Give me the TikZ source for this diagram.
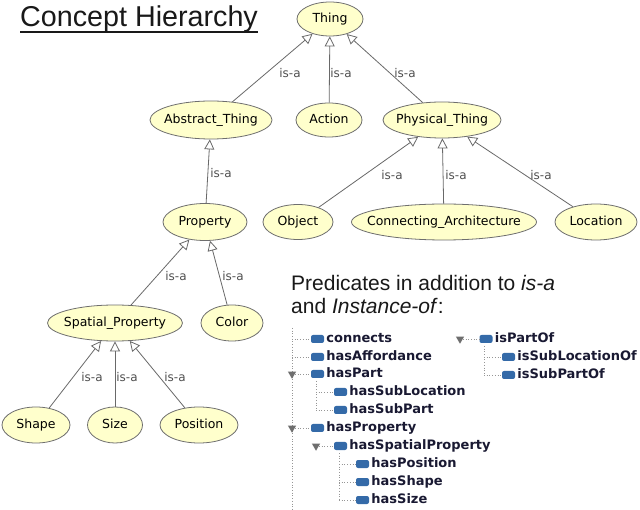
\documentclass[tikz,border=0pt]{standalone}
\usepackage{fontspec}
\setmainfont{Liberation Sans}
\newfontfamily\dv{DejaVu Sans}
\usetikzlibrary{shapes.geometric,arrows.meta,calc}
\definecolor{efill}{RGB}{255,255,204}
\definecolor{edraw}{RGB}{110,110,110}
\definecolor{ecol}{RGB}{105,105,105}
\definecolor{lblc}{RGB}{80,80,80}
\definecolor{iconc}{RGB}{52,106,168}
\definecolor{itemc}{RGB}{25,25,50}
\definecolor{treec}{RGB}{150,150,150}
\definecolor{expc}{RGB}{110,110,110}
\newcommand\zb[1]{\makebox[0pt][c]{#1}}
\begin{document}
\begin{tikzpicture}[x=1pt,y=-1pt,
 concept/.style={ellipse, draw=edraw, fill=efill, line width=0.8pt, inner sep=0pt,
   minimum height=36pt, font=\dv\fontsize{12.5}{14}\selectfont, text height=9pt, text depth=2.5pt},
 isa/.style={draw=ecol, line width=0.8pt, -{Triangle[open,length=10pt,width=10pt]}},
 lbl/.style={font=\dv\fontsize{12}{14}\selectfont, text=lblc, inner sep=0pt},
 icon/.style={fill=iconc, rounded corners=2pt, minimum width=13pt, minimum height=8pt, inner sep=0pt},
 item/.style={font=\dv\bfseries\fontsize{13}{15}\selectfont, text=itemc, anchor=west,
   inner sep=0pt, text height=9.5pt, text depth=2.5pt},
 tree/.style={draw=treec, line width=0.7pt, dotted},
 expander/.style={regular polygon, regular polygon sides=3, shape border rotate=180,
   fill=expc, minimum size=9.5pt, inner sep=0pt}]
\useasboundingbox[fill=white] (0,0) rectangle (640,510);

% titles
\node[font=\fontsize{28.7}{32}\selectfont, anchor=base west, inner sep=0pt, text=black!90] (title) at (20,27) {Concept Hierarchy};
\draw[line width=1.4pt, black!90] ($(title.base west)+(0,5)$) -- ($(title.base east)+(0,5)$);
\node[font=\fontsize{21}{23}\selectfont, anchor=base west, inner sep=0pt, text=black!90] (pred1) at (291,291) {Predicates in addition to \textit{is-a}};
\node[font=\fontsize{21}{23}\selectfont, anchor=base west, inner sep=0pt, text=black!90] (pred2) at (291,314) {and \textit{Instance-of}:};

% concept nodes
\node[concept, minimum width=66pt, minimum height=34pt] (thing) at (330,19) {\zb{Thing}};
\node[concept, minimum width=122pt, minimum height=38pt] (abstract) at (211,120) {\zb{Abstract\_Thing}};
\node[concept, minimum width=66pt, minimum height=34pt] (action) at (329,120) {\zb{Action}};
\node[concept, minimum width=118pt] (physical) at (442,120) {\zb{Physical\_Thing}};
\node[concept, minimum width=70pt, minimum height=35pt] (object) at (298,222) {\zb{Object}};
\node[concept, minimum width=185pt] (connarch) at (444,222) {\zb{Connecting\_Architecture}};
\node[concept, minimum width=82pt] (location) at (596,222) {\zb{Location}};
\node[concept, minimum width=84pt, minimum height=37pt] (property) at (205,222) {\zb{Property}};
\node[concept, minimum width=135pt] (spatial) at (115,323) {\zb{Spatial\_Property}};
\node[concept, minimum width=62pt] (color) at (232,323) {\zb{Color}};
\node[concept, minimum width=68pt] (shape) at (36,425) {\zb{Shape}};
\node[concept, minimum width=55pt] (size) at (115,425) {\zb{Size}};
\node[concept, minimum width=78pt] (position) at (199,425) {\zb{Position}};

% is-a edges
\draw[isa] (abstract) -- (thing);
\draw[isa] (action) -- (thing);
\draw[isa] (physical) -- (thing);
\draw[isa] (object) -- (physical);
\draw[isa] (connarch) -- (physical);
\draw[isa] (location) -- (physical);
\draw[isa] (property) -- (abstract);
\draw[isa] (spatial) -- (property);
\draw[isa] (color) -- (property);
\draw[isa] (shape) -- (spatial);
\draw[isa] (size) -- (spatial);
\draw[isa] (position) -- (spatial);

% edge labels
\node[lbl] (l1) at (290,73) {is-a};
\node[lbl] (l2) at (341,73) {is-a};
\node[lbl] (l3) at (405,73) {is-a};
\node[lbl] (l4) at (392,175) {is-a};
\node[lbl] (l5) at (456,175) {is-a};
\node[lbl] (l6) at (541,175) {is-a};
\node[lbl] (l7) at (221,173) {is-a};
\node[lbl] (l8) at (176,276) {is-a};
\node[lbl] (l9) at (233,276) {is-a};
\node[lbl] (l10) at (92,377) {is-a};
\node[lbl] (l11) at (127,377) {is-a};
\node[lbl] (l12) at (175,377) {is-a};

% predicate tree
\coordinate (t0a) at (292,328);
\coordinate (t0b) at (292,510);
\coordinate (t1a) at (316,381);
\coordinate (t1b) at (316,410);
\coordinate (t2a) at (339,453);
\coordinate (t2b) at (339,500);
\coordinate (r1a) at (484,346);
\coordinate (r1b) at (484,375);
\draw[tree] (t0a) -- (t0b);
\draw[tree] (t1a) -- (t1b);
\draw[tree] (t2a) -- (t2b);
\draw[tree] (r1a) -- (r1b);

\node[icon] (iconnects) at (317.5,339) {};
\node[icon] (iaff) at (317.5,357) {};
\node[icon] (ipart) at (317.5,374) {};
\node[icon] (isubloc) at (340.5,392) {};
\node[icon] (isubpart) at (340.5,410) {};
\node[icon] (iprop) at (317.5,428) {};
\node[icon] (ispat) at (340.5,446) {};
\node[icon] (ipos) at (362.5,464) {};
\node[icon] (ishape) at (362.5,482) {};
\node[icon] (isize) at (362.5,500) {};
\node[icon] (ipartof) at (486,339) {};
\node[icon] (isublocof) at (508.5,357) {};
\node[icon] (isubpartof) at (508.5,375) {};

\node[expander] (epart) at (292,374) {};
\node[expander] (eprop) at (292,428) {};
\node[expander] (espat) at (316,446) {};
\node[expander] (epartof) at (460,339) {};

\draw[tree] (t0a |- iconnects) -- (iconnects.west);
\draw[tree] (t0a |- iaff) -- (iaff.west);
\draw[tree] (epart.east |- ipart) -- (ipart.west);
\draw[tree] (t1a |- isubloc) -- (isubloc.west);
\draw[tree] (t1a |- isubpart) -- (isubpart.west);
\draw[tree] (eprop.east |- iprop) -- (iprop.west);
\draw[tree] (espat.east |- ispat) -- (ispat.west);
\draw[tree] (t2a |- ipos) -- (ipos.west);
\draw[tree] (t2a |- ishape) -- (ishape.west);
\draw[tree] (t2a |- isize) -- (isize.west);
\draw[tree] (epartof.east |- ipartof) -- (ipartof.west);
\draw[tree] (r1a |- isublocof) -- (isublocof.west);
\draw[tree] (r1a |- isubpartof) -- (isubpartof.west);

\node[item] (tconnects) at ($(iconnects.east)+(2,0)$) {connects};
\node[item] (taff) at ($(iaff.east)+(2,0)$) {hasAffordance};
\node[item] (tpart) at ($(ipart.east)+(2,0)$) {hasPart};
\node[item] (tsubloc) at ($(isubloc.east)+(2,0)$) {hasSubLocation};
\node[item] (tsubpart) at ($(isubpart.east)+(2,0)$) {hasSubPart};
\node[item] (tprop) at ($(iprop.east)+(2,0)$) {hasProperty};
\node[item] (tspat) at ($(ispat.east)+(2,0)$) {hasSpatialProperty};
\node[item] (tpos) at ($(ipos.east)+(2,0)$) {hasPosition};
\node[item] (tshape) at ($(ishape.east)+(2,0)$) {hasShape};
\node[item] (tsize) at ($(isize.east)+(2,0)$) {hasSize};
\node[item] (tpartof) at ($(ipartof.east)+(2,0)$) {isPartOf};
\node[item] (tsublocof) at ($(isublocof.east)+(2,0)$) {isSubLocationOf};
\node[item] (tsubpartof) at ($(isubpartof.east)+(2,0)$) {isSubPartOf};
\end{tikzpicture}
\end{document}
